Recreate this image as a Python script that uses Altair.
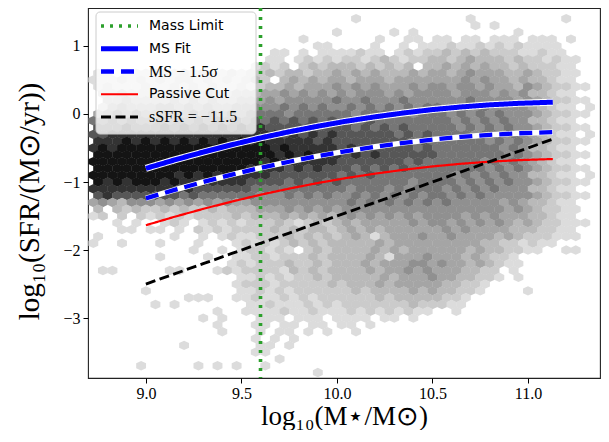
import altair as alt
import pandas as pd

# ---------------- data ----------------
line_x = [9.0, 9.15, 9.3, 9.45, 9.6, 9.75, 9.9, 10.05, 10.2, 10.35, 10.5, 10.65, 10.8, 10.95, 11.13]
ms_fit = [-0.800, -0.676, -0.560, -0.452, -0.352, -0.262, -0.180, -0.106, -0.042, 0.015,
          0.064, 0.103, 0.134, 0.156, 0.173]
ms_lower = [-1.240, -1.116, -1.000, -0.892, -0.792, -0.702, -0.620, -0.546, -0.482, -0.425,
            -0.376, -0.337, -0.306, -0.284, -0.267]
passive_cut = [-1.635, -1.511, -1.395, -1.287, -1.187, -1.097, -1.015, -0.941, -0.877, -0.820,
               -0.771, -0.732, -0.701, -0.679, -0.662]
ssfr_cut = [-2.50, -2.35, -2.20, -2.05, -1.90, -1.75, -1.60, -1.45, -1.30, -1.15,
            -1.00, -0.85, -0.70, -0.55, -0.37]
mass_limit = 9.6

series_names = ["Mass Limit", "MS Fit", "MS − 1.5σ", "Passive Cut", "sSFR = −11.5"]
math_labels = ["MS − 1.5σ", "sSFR = −11.5"]

x_ticks = [9.0, 9.5, 10.0, 10.5, 11.0]
y_ticks = [-3, -2, -1, 0, 1]

# hexbin density levels (0 = empty, 1 = lightest ... 9 = darkest)
hex_x_start = 8.725
hex_x_step = 0.05
hex_y_start = 1.5
hex_y_step = 0.1
density_rows = [
    "000000 000000000000 00000000 0000000000 0000000000 00000000",
    "000000 000000000000 00000000 0100000000 0001000000 00010000",
    "000000 000000000000 00000000 0000000000 0000101000 00000000",
    "000000 000000000000 00000001 0000010100 0000000010 00000000",
    "000000 000000000000 00001000 0000100110 1101101110 11101000",
    "000000 000000000000 00000110 0001001011 1211212121 11100000",
    "000000 000000000000 01101011 1121101212 2323232221 12110000",
    "000000 000000000000 11012121 2212321223 3234333232 21211000",
    "000000 000000000001 21202323 3323232303 3434343323 22211000",
    "110111 121212112122 32332334 3434333434 4345444334 32211000",
    "111212 121221212123 20343434 4344434444 4445454434 33211000",
    "121112 112121211212 33434445 4545444545 5455454435 43221100",
    "022322 223232322333 44545454 5455545455 5545554545 33211000",
    "033433 334343433444 54555556 5565556555 5556555545 43221100",
    "024544 455454544555 55656565 5656565656 6556565555 43211010",
    "456565 566565656566 66566666 6566656566 6565656555 43221100",
    "667676 676767676767 67676767 6767666666 6656565655 33211000",
    "777877 787878787878 77777777 7676767666 6656565655 43221100",
    "778888 888888888888 88787878 7777776767 6666566565 43211010",
    "888989 898989898989 88888787 7777777676 6666656565 43221100",
    "898999 999999999999 98988888 7877777767 6666666565 33211000",
    "999999 999999999999 98989888 7878777777 6666666565 43221100",
    "999999 999999999999 89888888 7777777676 6666656565 43211000",
    "999999 999999999988 88787877 7676767666 6666656565 43221100",
    "999999 999898989888 87777777 6767666666 6656565655 33211010",
    "989899 989888888877 77676767 6666666566 6656565655 43221100",
    "888888 888787777776 66666666 6566656566 6565656555 33211000",
    "787777 777676666665 55656565 5656565656 6565655555 43221100",
    "454355 545454545445 55555555 5656565656 5655555454 33211000",
    "303232 232322323334 44545454 5555555555 5555555454 32211000",
    "120202 121212222323 33434343 4545454545 5554545444 33211000",
    "001010 012101212122 23212323 4344444545 5454545434 32211100",
    "000110 110102121222 23232332 3434344444 4545444433 32211000",
    "100000 001001012112 22323232 3431344454 4544443432 22111000",
    "100100 010001000121 21232323 3333434444 4444433221 21100000",
    "000000 000010010122 12102323 3334343444 4443433221 10011000",
    "000000 010000100112 21222323 3334314445 4443432210 00000000",
    "000000 000000001212 22322323 3343444554 5443432110 00000000",
    "011000 001100012122 22132323 3334344545 4443322010 00000000",
    "000000 000000000112 12122323 3333434445 4433221010 00000000",
    "000000 000000000122 21222223 2333434444 4332210000 00000000",
    "000001 000000000112 12122222 2323333434 3322100001 00000000",
    "000000 000011100112 11212122 2222323333 3221000000 00000000",
    "000000 101000000011 21112121 2222222322 2110000000 00000000",
    "000000 000000010011 11211211 1212121211 0010000000 00000000",
    "000000 000001010001 11011101 1110110100 0000000000 00000000",
    "000000 000000010001 10110110 1101000000 0000000000 00000000",
    "000000 000000010001 01101010 0100000000 0000000000 00000000",
    "000000 000000000001 01010000 0000000000 0000000000 00000000",
    "000000 000100000001 10100000 0000000000 0000000000 00000000",
    "000000 000000000001 10000000 0000000000 0000000000 00000000",
    "000000 000000000000 01000000 0000000000 0000000000 00000000",
    "000001 000001010100 10000000 0000000000 0000000000 00000000",
    "000000 000000000000 00000100 0000000000 0000000000 00000000",
]

# ---------------- tables ----------------
hx, hy, hl = [], [], []
for r, row in enumerate(density_rows):
    row = row.replace(" ", "")
    for c, ch in enumerate(row):
        lvl = int(ch)
        if lvl > 0:
            hx.append(hex_x_start + hex_x_step * c + (hex_x_step / 2 if r % 2 else 0.0))
            hy.append(hex_y_start - hex_y_step * r)
            hl.append(lvl)
hex_df = pd.DataFrame({"x": hx, "y": hy, "level": hl})

n = len(line_x)
line_df = pd.DataFrame({
    "x": line_x * 4,
    "y": ms_fit + ms_lower + passive_cut + ssfr_cut,
    "series": [series_names[1]] * n + [series_names[2]] * n
              + [series_names[3]] * n + [series_names[4]] * n,
})
rule_df = pd.DataFrame({"x": [mass_limit], "series": [series_names[0]]})
legend_df = pd.DataFrame({"series": series_names})

# ---------------- styling ----------------
SERIF = "Liberation Serif"
SANS = "DejaVu Sans"
greys = ["#dcdcdc", "#cbcbcb", "#b9b9b9", "#a5a5a5", "#909090", "#767676", "#575757", "#333333", "#141414"]
HEX = "M0,-0.98 L1.03,-0.5 L1.03,0.5 L0,0.98 L-1.03,0.5 L-1.03,-0.5 Z"

xscale = alt.Scale(domain=[8.697, 11.377], nice=False, zero=False)
yscale = alt.Scale(domain=[-3.88, 1.557], nice=False, zero=False)

xaxis = alt.Axis(values=x_ticks, format=".1f", title="log₁₀(M⋆/M⊙)", grid=False, domain=False,
                 labelFont=SERIF, labelFontSize=16, labelColor="black", labelPadding=2,
                 tickColor="black", tickSize=5,
                 titleFont=SERIF, titleFontSize=27, titleFontWeight="normal", titleColor="black",
                 titleBaseline="alphabetic", titleY=46)
yaxis = alt.Axis(values=y_ticks, format="d", title="log₁₀(SFR/(M⊙/yr))", grid=False, domain=False,
                 labelFont=SERIF, labelFontSize=16, labelColor="black", labelPadding=3,
                 tickColor="black", tickSize=5,
                 titleFont=SERIF, titleFontSize=29, titleFontWeight="normal", titleColor="black",
                 titleX=-44, titleY=193)

color_enc = alt.Color("series:N", scale=alt.Scale(domain=series_names,
                      range=["#2ca02c", "#0000ff", "#0000ff", "#ff0000", "#000000"]), legend=None)
dash_enc = alt.StrokeDash("series:N", scale=alt.Scale(domain=series_names,
                          range=[[3, 6], [1, 0], [13, 7], [1, 0], [10, 4.5]]), legend=None)
width_enc = alt.StrokeWidth("series:N", scale=alt.Scale(type="point", padding=0,
                            domain=["Passive Cut", "sSFR = −11.5", "Mass Limit", "MS − 1.5σ", "MS Fit"],
                            range=[2.2, 5.0]), legend=None)

# ---------------- plot layers ----------------
hexes = alt.Chart(hex_df).mark_point(shape=HEX, filled=True, size=92, opacity=1, strokeWidth=0,
                                     clip=True).encode(
    x=alt.X("x:Q", scale=xscale, axis=xaxis),
    y=alt.Y("y:Q", scale=yscale, axis=yaxis),
    fill=alt.Fill("level:Q", scale=alt.Scale(domain=list(range(1, 10)), range=greys), legend=None),
)

rule = alt.Chart(rule_df).mark_rule(strokeCap="butt").encode(
    x="x:Q", color=color_enc, strokeDash=dash_enc, strokeWidth=width_enc)

under_fit = alt.Chart(line_df).transform_filter(alt.datum.series == series_names[1]).mark_line(
    color="white", strokeWidth=7, clip=True).encode(x="x:Q", y="y:Q")
under_low = alt.Chart(line_df).transform_filter(alt.datum.series == series_names[2]).mark_line(
    color="white", strokeWidth=5.5, clip=True).encode(x="x:Q", y="y:Q")

lines = alt.Chart(line_df).mark_line(strokeCap="butt", clip=True).encode(
    x="x:Q", y="y:Q", color=color_enc, strokeDash=dash_enc, strokeWidth=width_enc,
    detail="series:N")

main = alt.layer(hexes, rule, under_fit, under_low, lines)

# ---------------- legend (drawn as its own layer) ----------------
leg_y = alt.Scale(type="point", domain=series_names, range=[18, 109], padding=0)

leg_box = alt.Chart(legend_df.head(1)).mark_rect(
    fill="white", fillOpacity=0.8, stroke="#cccccc", strokeWidth=1, cornerRadius=4).encode(
    x=alt.value(8), x2=alt.value(168), y=alt.value(4), y2=alt.value(126))

leg_sym = alt.Chart(legend_df).mark_rule(strokeCap="butt").encode(
    x=alt.value(13), x2=alt.value(50),
    y=alt.Y("series:N", scale=leg_y, axis=None),
    color=color_enc, strokeDash=dash_enc, strokeWidth=width_enc)

leg_text_sans = alt.Chart(legend_df).transform_filter(
    alt.FieldOneOfPredicate(field="series", oneOf=[s for s in series_names if s not in math_labels])
).mark_text(align="left", baseline="middle", font=SANS, fontSize=14, color="black").encode(
    x=alt.value(61), y=alt.Y("series:N", scale=leg_y, axis=None), text="series:N")

leg_text_math = alt.Chart(legend_df).transform_filter(
    alt.FieldOneOfPredicate(field="series", oneOf=math_labels)
).mark_text(align="left", baseline="middle", font=SERIF, fontSize=16, color="black").encode(
    x=alt.value(61), y=alt.Y("series:N", scale=leg_y, axis=None), text="series:N")

legend_layer = alt.layer(leg_box, leg_sym, leg_text_sans, leg_text_math)

chart = alt.layer(main, legend_layer).resolve_scale(y="independent").properties(
    width=512, height=370,
    autosize=alt.AutoSizeParams(type="none"),
    padding={"left": 80, "top": 0, "right": 1, "bottom": 52},
    background="white",
).configure_view(stroke="#222222", strokeWidth=1.1)

chart.save("out.html", embed_options={"renderer": "svg", "actions": False})
